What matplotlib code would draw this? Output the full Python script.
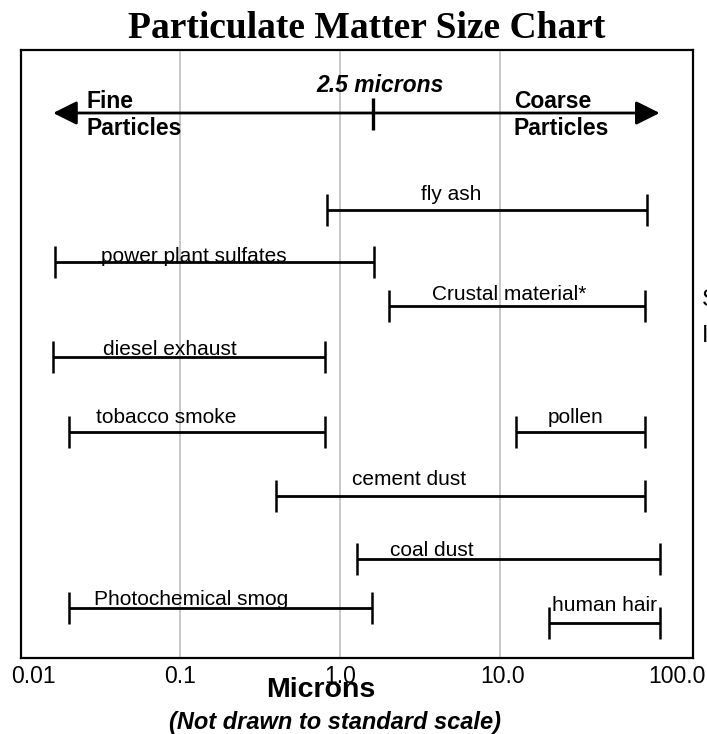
import matplotlib
matplotlib.use("Agg")
import matplotlib.pyplot as plt
from matplotlib.transforms import ScaledTranslation

# ---------------- data ----------------
labels = ["fly ash", "power plant sulfates", "Crustal material*", "diesel exhaust",
          "tobacco smoke", "pollen", "cement dust", "coal dust",
          "Photochemical smog", "human hair"]
size_low = [0.82, 0.0164, 2.0, 0.016, 0.020, 12.5, 0.395, 1.27, 0.020, 20.1]   # microns
size_high = [82.0, 1.62, 80.0, 0.806, 0.796, 80.0, 80.0, 100.0, 1.57, 100.0]  # microns
label_at = [4.9, 0.1215, 11.3, 0.086, 0.0812, 29.6, 2.68, 3.71, 0.1173, 45.0]  # label centre (microns)
tick_values = [0.01, 0.1, 1.0, 10.0, 100.0]
tick_labels = ["0.01", "0.1", "1.0", "10.0", "100.0"]
pm_mark = 1.6          # position of the "2.5 microns" divider on the drawn axis
arrow_span = [0.016, 99.0]

# ---------------- layout (fractions of axes height from top) ----------------
row_y = [0.263, 0.349, 0.421, 0.505, 0.628, 0.628, 0.734, 0.837, 0.918, 0.942]
label_dy = [-15, -6, -11, -8, -14, -14, -17, -8, -9, -17]   # pixels, text centre vs line

W, H = 707, 734
fig = plt.figure(figsize=(W / 100, H / 100), dpi=100)
ax = fig.add_axes([20.5 / W, (H - 658) / H, 672.5 / W, 608 / H])
ax.set_xscale("log")
ax.set_xlim(0.01, 160)
ax.set_ylim(1, 0)

sans = ["Liberation Sans", "DejaVu Sans"]
serif = ["Liberation Serif", "DejaVu Serif"]

for v in [0.1, 1.0, 10.0]:
    ax.axvline(v, color="#bdbdbd", lw=1.2, zorder=0)

for s in ax.spines.values():
    s.set_linewidth(1.6)
    s.set_color("black")

cap = 16 / 608
px = 1 / 608
for lab, lo, hi, lx, y, dy in zip(labels, size_low, size_high, label_at, row_y, label_dy):
    ax.hlines(y, lo, hi, color="black", lw=2.0, zorder=3)
    ax.vlines([lo, hi], y - cap, y + cap, color="black", lw=1.8, zorder=3)
    ax.text(lx, y + dy * px, lab, ha="center", va="center", fontsize=15,
            family=sans, zorder=4)

# fine / coarse arrow
arrow_y = (113 - 50) / 608
ax.annotate("", xy=(arrow_span[0], arrow_y), xytext=(arrow_span[1], arrow_y),
            arrowprops=dict(arrowstyle="<|-|>,head_length=1.0,head_width=0.5",
                            mutation_scale=14.5, lw=2.0, color="black",
                            shrinkA=0, shrinkB=0))
ax.vlines(pm_mark, (98 - 50) / 608, (130 - 50) / 608, color="black", lw=2.4)
ax.text(pm_mark * 1.11, (85 - 50) / 608, "2.5 microns", ha="center", va="center",
        fontsize=16.5, fontweight="bold", fontstyle="italic", family=sans)

tr = ax.get_yaxis_transform()
axf = ax.transAxes
for txt, xf, yb in [("Fine", 0.0974, 108), ("Particles", 0.0974, 135),
                    ("Coarse", 0.7338, 108), ("Particles", 0.7338, 135)]:
    ax.text(xf, 1 - (yb - 50) / 608, txt, transform=axf, ha="left", va="baseline",
            fontsize=16.5, fontweight="bold", family=sans)

# x ticks
ax.set_xticks(tick_values)
ax.set_xticklabels(tick_labels, fontsize=16.5, family=sans)
ax.xaxis.set_minor_locator(matplotlib.ticker.NullLocator())
ax.tick_params(axis="x", length=0, pad=5)
ax.set_yticks([])
offs = [13, 0, 0, 2, 17]
for t, o in zip(ax.get_xticklabels(), offs):
    t.set_transform(t.get_transform() + ScaledTranslation(o / 100, 0, fig.dpi_scale_trans))

# titles and captions
fig.text(367 / W, 1 - 29 / H, "Particulate Matter Size Chart", ha="center", va="center",
         fontsize=27, fontweight="bold", family=serif)
fig.text(321 / W, 1 - 690 / H, "Microns", ha="center", va="center",
         fontsize=20.5, fontweight="bold", family=sans)
fig.text(335 / W, 1 - 722 / H, "(Not drawn to standard scale)", ha="center", va="center",
         fontsize=17, fontweight="bold", fontstyle="italic", family=sans)
# footnote cut off at the right edge in the reference
fig.text(702 / W, 1 - 300 / H, "Sea salt", ha="left", va="center", fontsize=17, family=sans)
fig.text(702 / W, 1 - 336 / H, "Includes", ha="left", va="center", fontsize=17, family=sans)

fig.savefig("out.png", dpi=100)
